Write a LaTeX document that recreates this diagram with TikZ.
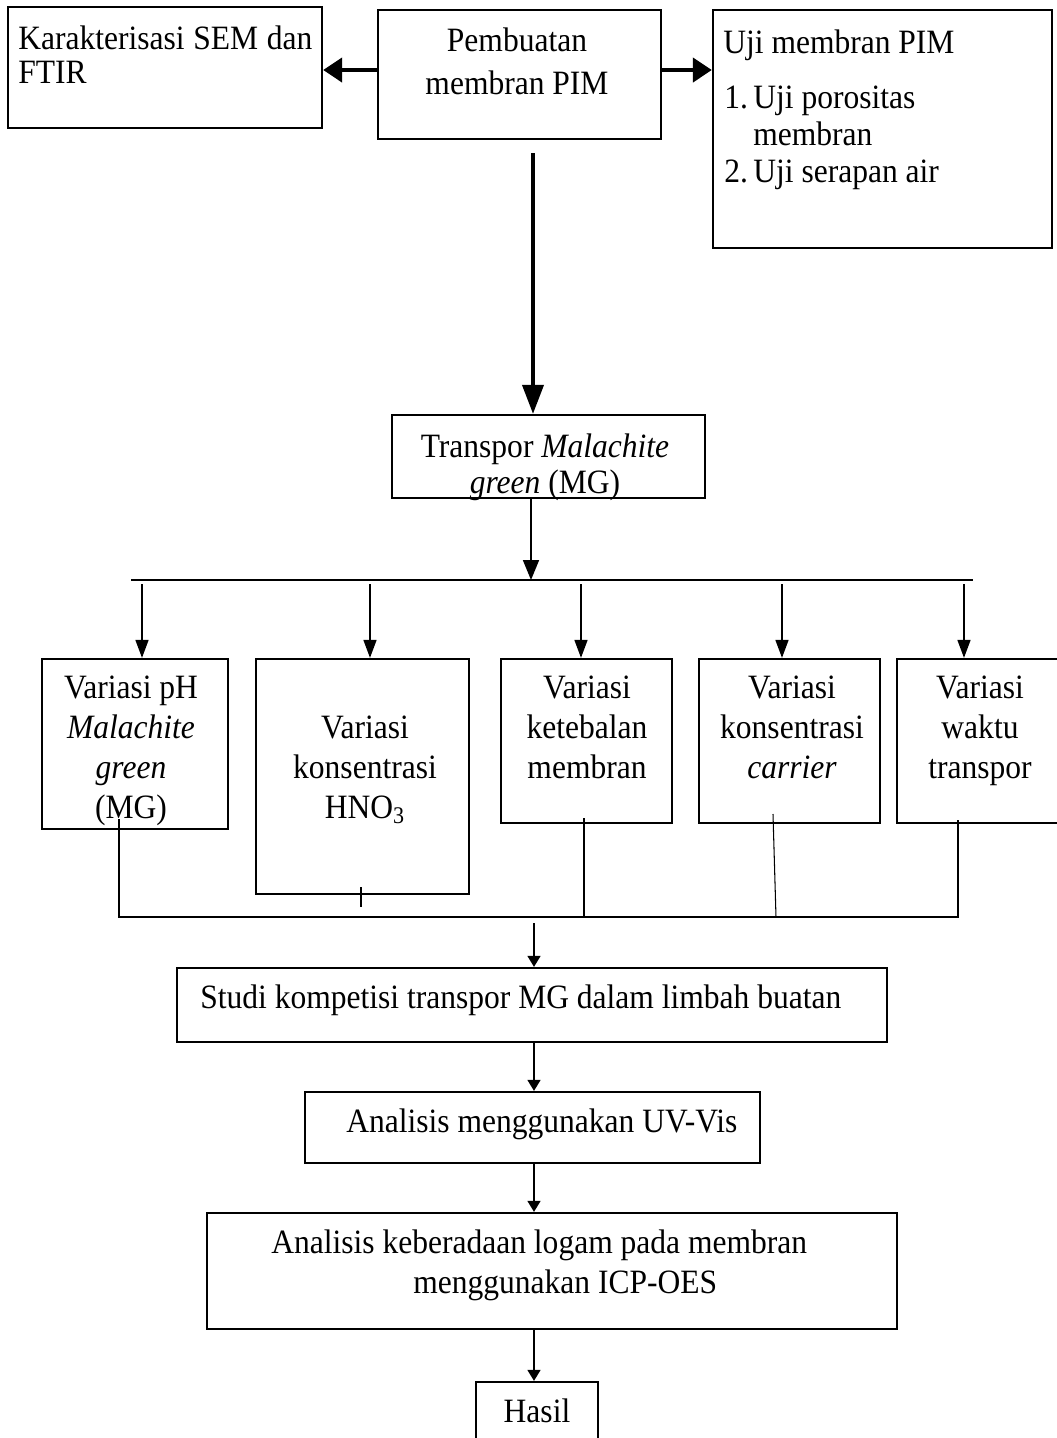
\documentclass[tikz,border=0pt]{standalone}
\usepackage{fontspec}
\setmainfont{Liberation Serif}[FakeStretch=0.925]
\usetikzlibrary{arrows.meta,fit}

\begin{document}
\begin{tikzpicture}[x=0.02cm,y=-0.02cm,
    box/.style={draw=black,line width=1.3pt,inner sep=0pt},
    txt/.style={inner sep=0pt,font=\fontsize{19.4pt}{22.8pt}\selectfont},
    sidearr/.style={line width=2.4pt,-{Triangle[length=0.38cm,width=0.48cm]}},
    bigarr/.style={line width=2.2pt,-{Triangle[length=0.58cm,width=0.42cm]}},
    arr/.style={line width=0.9pt,-{Triangle[length=0.36cm,width=0.26cm]}},
    smallarr/.style={line width=0.9pt,-{Triangle[length=0.22cm,width=0.26cm]}},
    joint/.style={line width=0.6pt}]
    \useasboundingbox (0,0) rectangle (1057,1438);
    \clip (0,0) rectangle (1057,1438);

    % top row
    \node[box,fit={(8,7) (322,128)}] (sem) {};
    \node[box,fit={(378,10) (661,139)}] (pim) {};
    \node[box,fit={(713,10) (1052,248)}] (uji) {};
    \node[txt,anchor=base west,text width=5.88cm,align=flush left,
        font=\fontsize{19.4pt}{19.6pt}\selectfont] (semtxt) at (18,49)
        {\makebox[\linewidth][s]{Karakterisasi SEM dan}\\FTIR};
    \node[txt,anchor=base,text width=5.2cm,align=flush center,
        font=\fontsize{19.4pt}{24.5pt}\selectfont] (pimtxt) at (517,51)
        {Pembuatan\\membran PIM};
    \node[txt,anchor=base west] (ujitxt) at (723,53) {Uji membran PIM};
    \node[txt,anchor=base west,text width=6.2cm,align=flush left,
        font=\fontsize{19.4pt}{21.3pt}\selectfont] (ujilist) at (724,108)
        {\makebox[0.58cm][l]{1.}Uji porositas\\\hspace*{0.58cm}membran\\
         \makebox[0.58cm][l]{2.}Uji serapan air};
    \draw[sidearr] ([yshift=0.09cm]pim.west) -- ([yshift=0.09cm]pim.west -| sem.east);
    \draw[sidearr] ([yshift=0.09cm]pim.east) -- ([yshift=0.09cm]pim.east -| uji.west);

    % transpor
    \node[box,fit={(392,415) (705,498)}] (mg) {};
    \node[txt,anchor=base,text width=6cm,align=flush center,
        font=\fontsize{19.4pt}{20.5pt}\selectfont] (mgtxt) at (545,457)
        {Transpor \textit{Malachite}\\\textit{green} (MG)};
    \coordinate (pimout) at (533,153);
    \draw[bigarr] (pimout) -- (pimout |- mg.north);

    % split into the five variations
    \coordinate (busL) at (131,580);
    \coordinate (busR) at (973,580);
    \coordinate (c0) at (531,580);
    \draw[joint] (busL) -- (busR);
    \draw[line width=1pt,-{Triangle[length=0.4cm,width=0.32cm]}] (mg.south -| c0) -- (c0);

    \node[box,fit={(42,659) (228,829)}] (v1) {};
    \node[box,fit={(256,659) (469,894)}] (v2) {};
    \node[box,fit={(501,659) (672,823)}] (v3) {};
    \node[box,fit={(699,659) (880,823)}] (v4) {};
    \node[box,fit={(897,659) (1063,823)}] (v5) {};

    \node[txt,anchor=base,text width=3.6cm,align=flush center] (v1txt) at (131,698)
        {Variasi pH\\\textit{Malachite}\\\textit{green}\\(MG)};
    \node[txt,anchor=base,text width=4.2cm,align=flush center] (v2txt) at (365,738)
        {Variasi\\konsentrasi\\HNO\textsubscript{3}};
    \node[txt,anchor=base,text width=3.4cm,align=flush center] (v3txt) at (587,698)
        {Variasi\\ketebalan\\membran};
    \node[txt,anchor=base,text width=3.6cm,align=flush center] (v4txt) at (792,698)
        {Variasi\\konsentrasi\\\textit{carrier}};
    \node[txt,anchor=base,text width=3.2cm,align=flush center] (v5txt) at (980,698)
        {Variasi\\waktu\\transpor};

    \foreach \n/\x in {1/142,2/370,3/581,4/782,5/964} {
        \coordinate (a\n) at (\x,584);
        \draw[arr] (a\n) -- (a\n |- v\n.north);
    }

    % joining the variations again
    \coordinate (b1) at (119,819);
    \coordinate (b2) at (361,887);
    \coordinate (b3) at (584,818);
    \coordinate (b4) at (773,814);
    \coordinate (b5) at (958,820);
    \coordinate (dL) at (119,917);
    \coordinate (dR) at (958,917);
    \draw[joint] (b1) -- (dL) -- (dR) -- (b5);
    \draw[joint] (b2) -- (361,907);
    \draw[joint] (b3) -- (b3 |- dL);
    \draw[joint] (b4) -- (776,917);

    % lower chain
    \node[box,fit={(177,968) (887,1042)}] (studi) {};
    \node[box,fit={(305,1092) (760,1163)}] (uv) {};
    \node[box,fit={(207,1213) (897,1329)}] (icp) {};
    \node[box,fit={(476,1382) (598,1470)}] (hasil) {};

    \node[txt,anchor=base west] (studitxt) at (200,1008)
        {Studi kompetisi transpor MG dalam limbah buatan};
    \node[txt,anchor=base west] (uvtxt) at (346,1132) {Analisis menggunakan UV-Vis};
    \node[txt,anchor=base west,text width=12cm,align=flush left] (icptxt) at (271,1253)
        {Analisis keberadaan logam pada membran\\\hspace*{2.84cm}menggunakan ICP-OES};
    \node[txt,anchor=base] (hasiltxt) at (537,1422) {Hasil};

    \coordinate (d0) at (534,923);
    \draw[smallarr] (d0) -- (d0 |- studi.north);
    \draw[smallarr] (studi.south -| d0) -- (uv.north -| d0);
    \draw[smallarr] (uv.south -| d0) -- (icp.north -| d0);
    \draw[smallarr] (icp.south -| d0) -- (hasil.north -| d0);
\end{tikzpicture}
\end{document}
